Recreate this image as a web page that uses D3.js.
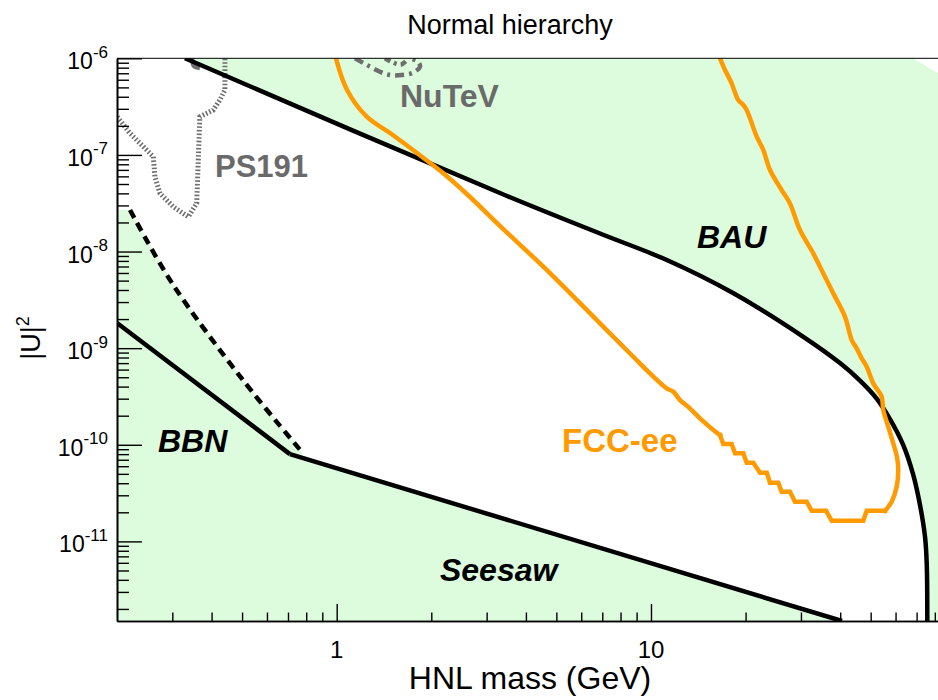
<!DOCTYPE html>
<html><head><meta charset="utf-8">
<script src="https://cdn.jsdelivr.net/npm/d3@7"></script>
<style>
body{margin:0;background:#fff}
svg{display:block;font-family:"Liberation Sans",Arial,Helvetica,sans-serif}
</style>
</head><body>
<svg id="chart" width="938" height="700"></svg>
<script>
// ---------------- DATA ----------------
const title = "Normal hierarchy";
const xTitle = "HNL mass (GeV)";
const yTitle = "|U|";
const yTitleSup = "2";
const xDomain = [0.2, 90];
const yDomain = [1.5e-12, 1e-6];
const xMajorTicks = [1, 10];
const xTickLabels = ["1", "10"];
const yMajorTicks = [1e-6, 1e-7, 1e-8, 1e-9, 1e-10, 1e-11];
const yTickExponents = ["-6", "-7", "-8", "-9", "-10", "-11"];

// BAU (leptogenesis) upper boundary [mass GeV, |U|^2]
const bauCurve = [
  [0.329, 1e-6], [3.307, 4.03e-8], [6.883, 1.536e-8], [11.23, 8.17e-9],
  [18.24, 3.72e-9], [30.45, 1.318e-9], [39.94, 7.01e-10], [46.24, 4.62e-10],
  [52.25, 3.01e-10], [57.59, 1.845e-10], [63.49, 9.93e-11], [68.34, 4.86e-11],
  [71.77, 2.38e-11], [74.45, 1.116e-11], [75.39, 5.92e-12], [75.71, 1.5e-12]
];
// BBN bound (solid) and seesaw line
const bbnLine = [[0.2, 1.82e-9], [0.710, 8.01e-11]];
const seesawLine = [[0.710, 8.01e-11], [40.53, 1.5e-12]];
// BBN bound (dashed, alternative)
const bbnDashed = [[0.220, 2.69e-8], [0.2992, 4.72e-9], [0.5033, 4.67e-10], [0.7754, 8.40e-11]];
// PS191 (dotted)
const ps191 = [
  [0.2004, 2.48e-7], [0.220, 1.67e-7], [0.2425, 1.22e-7], [0.261, 9.58e-8],
  [0.264, 5.94e-8], [0.274, 4.0e-8], [0.302, 2.91e-8], [0.337, 2.29e-8],
  [0.3586, 3.15e-8], [0.367, 2.48e-7], [0.405, 2.92e-7], [0.425, 3.70e-7],
  [0.441, 4.70e-7], [0.441, 9.6e-7], [0.441, 1e-6]
];
// NuTeV (dash-dot)
const nutevOuter = [
  [1.144, 1e-6], [1.249, 8.52e-7], [1.373, 7.26e-7], [1.478, 6.71e-7],
  [1.613, 6.71e-7], [1.749, 7.10e-7], [1.841, 8.19e-7], [1.814, 9.22e-7], [1.711, 1e-6]
];
const nutevInner = [[1.424, 1e-6], [1.500, 9.16e-7], [1.602, 8.63e-7], [1.674, 9.60e-7]];
// other small limit piece near BAU start
const charmPiece = [[0.3464, 1e-6], [0.3515, 8.32e-7], [0.367, 7.94e-7]];
// FCC-ee sensitivity
const fccCurve = [
  [0.995, 1e-6], [1.079, 4.70e-7], [1.249, 2.47e-7], [1.478, 1.685e-7],
  [1.801, 1.046e-7], [2.179, 6.50e-8], [2.656, 3.67e-8], [3.236, 1.97e-8],
  [4.771, 5.99e-9], [6.883, 1.806e-9], [8.785, 8.15e-10], [9.927, 5.48e-10],
  [11.22, 3.84e-10], [11.78, 3.54e-10], [12.37, 2.90e-10], [13.14, 2.47e-10],
  [14.32, 1.876e-10], [15.79, 1.420e-10], [16.58, 1.260e-10], [16.98, 1.017e-10],
  [18.06, 1.017e-10], [18.51, 8.15e-11], [19.67, 8.15e-11], [20.16, 6.51e-11],
  [21.16, 6.51e-11], [22.23, 5.13e-11], [23.35, 5.13e-11], [23.92, 4.04e-11],
  [25.41, 4.04e-11], [26.05, 3.26e-11], [27.68, 3.26e-11], [28.72, 2.57e-11],
  [31.29, 2.57e-11], [32.46, 2.07e-11], [36.06, 2.07e-11], [37.60, 1.633e-11],
  [47.37, 1.633e-11], [48.57, 2.07e-11], [55.53, 2.07e-11], [58.32, 2.57e-11],
  [60.49, 3.67e-11], [61.21, 5.47e-11], [60.63, 7.51e-11], [59.00, 1.034e-10],
  [56.89, 1.536e-10], [54.83, 2.29e-10], [54.20, 3.14e-10], [50.96, 4.32e-10],
  [48.57, 6.42e-10], [46.82, 7.84e-10], [45.13, 9.95e-10], [43.52, 1.213e-9],
  [41.44, 2.11e-9], [38.02, 3.69e-9], [34.49, 6.96e-9], [32.84, 9.58e-9],
  [29.79, 1.670e-8], [27.68, 3.15e-8], [26.05, 4.33e-8], [23.92, 6.98e-8],
  [22.77, 1.124e-7], [21.70, 1.543e-7], [20.16, 2.92e-7], [19.67, 3.29e-7],
  [18.95, 3.70e-7], [18.06, 5.51e-7], [17.20, 7.57e-7], [16.58, 1e-6]
];
// excluded (green) regions
const greenUpperCorner = [[90, 1.5e-12], [90, 5.82e-7], [68.19, 1e-6]];
const greenLowerStart = [[0.2, 1.5e-12], [0.2, 2.69e-8]];
const greenLowerEnd = [[0.7754, 7.35e-11], [40.53, 1.5e-12]];

// region labels
const labelTexts = ["PS191", "NuTeV", "BAU", "BBN", "Seesaw", "FCC-ee"];

// ---------------- DRAW ----------------
const svg = d3.select("#chart");
const L = 117, T = 58.3, B = 621, R = 950.9;
const x = d3.scaleLog().domain(xDomain).range([L, R]);
const y = d3.scaleLog().domain(yDomain).range([B, T]);
const line = d3.line().x(d => x(d[0])).y(d => y(d[1]));
const smooth = d3.line().x(d => x(d[0])).y(d => y(d[1])).curve(d3.curveCatmullRom.alpha(0.5));

svg.append("defs").append("clipPath").attr("id", "clip")
  .append("rect").attr("x", L).attr("y", T).attr("width", R - L).attr("height", B - T);
const plot = svg.append("g").attr("clip-path", "url(#clip)");

const green = "#ddfbdd";
// upper excluded region (above BAU)
plot.append("path")
  .attr("d", smooth(bauCurve) + line(greenUpperCorner).replace("M", "L") + "Z")
  .attr("fill", green);
// lower excluded region (below BBN / seesaw)
plot.append("path")
  .attr("d", line(greenLowerStart.concat(bbnDashed, greenLowerEnd)) + "Z")
  .attr("fill", green);

const gray = "#6e6e6e";
plot.append("path").attr("d", line(ps191)).attr("fill", "none")
  .attr("stroke", gray).attr("stroke-width", 5).attr("stroke-dasharray", "1.6 2");
plot.append("path").attr("d", smooth(nutevOuter)).attr("fill", "none")
  .attr("stroke", gray).attr("stroke-width", 4.5).attr("stroke-dasharray", "9 5 3 5");
plot.append("path").attr("d", smooth(nutevInner)).attr("fill", "none")
  .attr("stroke", gray).attr("stroke-width", 4.5).attr("stroke-dasharray", "6 4 3 4");
plot.append("path").attr("d", smooth(charmPiece)).attr("fill", "none")
  .attr("stroke", gray).attr("stroke-width", 4.5);

plot.append("path").attr("d", smooth(bauCurve)).attr("fill", "none")
  .attr("stroke", "#000").attr("stroke-width", 4.5);
[bbnLine, seesawLine].forEach(c => plot.append("path").attr("d", line(c)).attr("fill", "none")
  .attr("stroke", "#000").attr("stroke-width", 4.5).attr("stroke-linejoin", "round"));
plot.append("path").attr("d", smooth(bbnDashed)).attr("fill", "none")
  .attr("stroke", "#000").attr("stroke-width", 4.5).attr("stroke-dasharray", "9 6");

const orange = "#ff9a00";
// smooth upper-left branch, stepped bottom, smooth right branch
const fccParts = [
  [smooth, fccCurve.slice(0, 19)],
  [line, fccCurve.slice(18, 39)],
  [smooth, fccCurve.slice(38)]
];
fccParts.forEach(([gen, pts]) => plot.append("path").attr("d", gen(pts)).attr("fill", "none")
  .attr("stroke", orange).attr("stroke-width", 4.5).attr("stroke-linejoin", "miter")
  .attr("stroke-linecap", "square"));

// axes
const xMinor = [];
for (let e = -1; e <= 1; e++) for (let k = 2; k <= 9; k++) {
  const v = k * Math.pow(10, e); if (v > xDomain[0] && v < xDomain[1]) xMinor.push(v);
}
const yMinor = [];
for (let e = -12; e <= -7; e++) for (let k = 2; k <= 9; k++) {
  const v = k * Math.pow(10, e); if (v > yDomain[0] && v < yDomain[1]) yMinor.push(v);
}
function styleAxis(g) {
  g.selectAll("path").attr("stroke", "#000").attr("stroke-width", 1.6);
  g.selectAll("line").attr("stroke", "#000").attr("stroke-width", 1.4);
  g.selectAll("text").remove();
}
svg.append("g").attr("transform", `translate(0,${B})`)
  .call(d3.axisBottom(x).tickValues(xMinor).tickSize(-8.5).tickSizeOuter(0).tickFormat("")).call(styleAxis);
svg.append("g").attr("transform", `translate(0,${B})`)
  .call(d3.axisBottom(x).tickValues(xMajorTicks).tickSize(-17).tickSizeOuter(0).tickFormat("")).call(styleAxis);
svg.append("g").attr("transform", `translate(${L},0)`)
  .call(d3.axisLeft(y).tickValues(yMinor).tickSize(-12).tickSizeOuter(0).tickFormat("")).call(styleAxis);
svg.append("g").attr("transform", `translate(${L},0)`)
  .call(d3.axisLeft(y).tickValues(yMajorTicks).tickSize(-25).tickSizeOuter(0).tickFormat("")).call(styleAxis);
// top frame
svg.append("line").attr("x1", L).attr("x2", R).attr("y1", T).attr("y2", T)
  .attr("stroke", "#000").attr("stroke-width", 1);

// tick labels
xMajorTicks.forEach((v, i) => svg.append("text").attr("x", x(v)).attr("y", 658)
  .attr("text-anchor", "middle").attr("font-size", 24).text(xTickLabels[i]));
yMajorTicks.forEach((v, i) => {
  const t = svg.append("text").attr("x", 108).attr("y", y(v) + 11)
    .attr("text-anchor", "end").attr("font-size", 23);
  t.append("tspan").text("10");
  t.append("tspan").attr("dy", -11.5).attr("font-size", 17).text(yTickExponents[i]);
});

// titles
svg.append("text").attr("x", 510).attr("y", 34).attr("text-anchor", "middle")
  .attr("font-size", 27).text(title);
svg.append("text").attr("x", 530).attr("y", 689).attr("text-anchor", "middle")
  .attr("font-size", 32).text(xTitle);
const yt = svg.append("text").attr("transform", "translate(40,338) rotate(-90)")
  .attr("text-anchor", "middle").attr("font-size", 27);
yt.append("tspan").text(yTitle);
yt.append("tspan").attr("dy", -11).attr("font-size", 18).text(yTitleSup);

// region labels (anchored in data coordinates)
const labelAnchors = [[0.410, 5.95e-8], [1.590, 3.16e-7], [14.0, 1.08e-8],
                      [0.270, 8.46e-11], [2.131, 3.88e-12], [5.21, 8.40e-11]];
const labelColors = ["#6a6a6a", "#6a6a6a", "#000", "#000", "#000", orange];
const labelItalic = [false, false, true, true, true, false];
const labelSizes = [31, 32, 32, 32, 32, 33];
labelTexts.forEach((s, i) => svg.append("text")
  .attr("x", x(labelAnchors[i][0])).attr("y", y(labelAnchors[i][1]))
  .attr("font-size", labelSizes[i]).attr("font-weight", "bold")
  .attr("font-style", labelItalic[i] ? "italic" : "normal")
  .attr("fill", labelColors[i]).text(s));
</script>
</body></html>
